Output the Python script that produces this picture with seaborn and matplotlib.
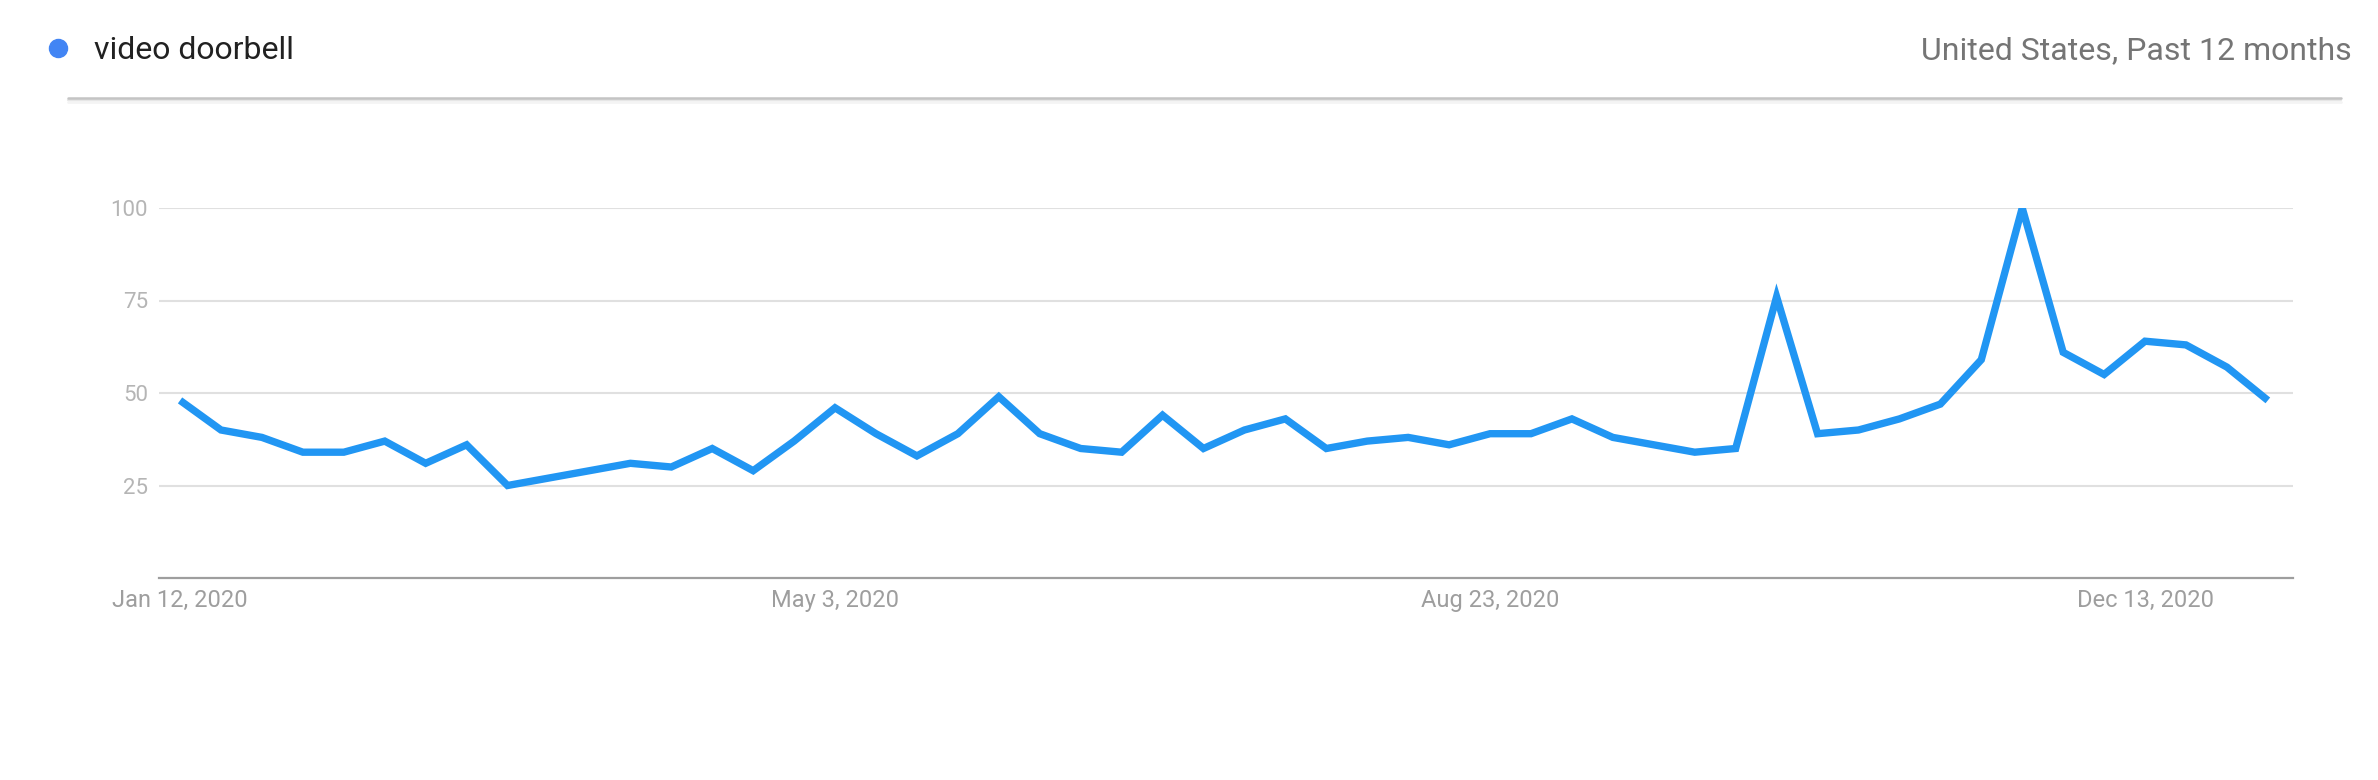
import numpy as np
import pandas as pd
import matplotlib
matplotlib.use("Agg")
import matplotlib.pyplot as plt
from matplotlib.lines import Line2D
import seaborn as sns

# ---------------- data ----------------
series_name = "video doorbell"
subtitle = "United States, Past 12 months"
start_week = "2020-01-12"
interest = [48, 40, 38, 34, 34, 37, 31, 36, 25, 27, 29, 31, 30, 35, 29, 37,
            46, 39, 33, 39, 49, 39, 35, 34, 44, 35, 40, 43, 35, 37, 38, 36,
            39, 39, 43, 38, 36, 34, 35, 76, 39, 40, 43, 47, 59, 100, 61, 55,
            64, 63, 57, 48]
yticks = [25, 50, 75, 100]
xtick_dates = ["2020-01-12", "2020-05-03", "2020-08-23", "2020-12-13"]

weeks = pd.date_range(start_week, periods=len(interest), freq="7D")
df = pd.DataFrame({"week": weeks, "interest": interest})

# ---------------- figure ----------------
W, H, DPI = 2378, 780, 100
sns.set_theme(style="white")
plt.rcParams["font.family"] = ["Roboto", "DejaVu Sans"]

fig = plt.figure(figsize=(W / DPI, H / DPI), dpi=DPI)
fig.patch.set_facecolor("white")

ax = fig.add_axes([159 / W, 1 - 578 / H, (2293 - 159) / W, 370 / H])
sns.lineplot(data=df, x="week", y="interest", ax=ax, color="#2196F3",
             linewidth=5.3)
for ln in ax.lines:
    ln.set_solid_joinstyle("miter")
    ln.set_solid_capstyle("butt")

ax.set_ylim(0, 100)
ax.set_xlim(weeks[0] - pd.Timedelta(days=3.6), weeks[-1] + pd.Timedelta(days=4.3))
ax.set_yticks(yticks)
ax.set_yticklabels([str(v) for v in yticks])
xt = pd.to_datetime(xtick_dates)
ax.set_xticks(xt)
ax.set_xticklabels([f"{d:%b} {d.day}, {d.year}" for d in xt])
ax.set_xlabel("")
ax.set_ylabel("")

ax.yaxis.grid(True, color="#E0E0E0", linewidth=1.5)
ax.xaxis.grid(False)
ax.set_axisbelow(True)
for s in ["top", "right", "left"]:
    ax.spines[s].set_visible(False)
ax.spines["bottom"].set_color("#9E9E9E")
ax.spines["bottom"].set_linewidth(1.6)

ax.tick_params(axis="y", length=0, pad=8, labelsize=16, labelcolor="#B5B5B5")
ax.tick_params(axis="x", length=0, pad=8, labelsize=17, labelcolor="#9E9E9E")

# ---------------- header ----------------
fig.add_artist(Line2D([58 / W], [1 - 48 / H], marker="o", markersize=13,
                      color="#4285F4", linestyle="none",
                      transform=fig.transFigure))
fig.text(94 / W, 1 - 59 / H, series_name, ha="left", va="baseline",
         fontsize=23, color="#212121")
fig.text(2352 / W, 1 - 59 / H, subtitle, ha="right", va="baseline",
         fontsize=23, color="#757575")

# separator line with soft shadow
for y, c, lw in [(102, "#F4F4F4", 2.0), (100, "#E6E6E6", 1.6), (97.5, "#C4C4C4", 1.8)]:
    fig.add_artist(Line2D([68 / W, 2341 / W], [1 - y / H, 1 - y / H],
                          color=c, linewidth=lw, transform=fig.transFigure))

fig.savefig("out.png", dpi=DPI, facecolor="white")
